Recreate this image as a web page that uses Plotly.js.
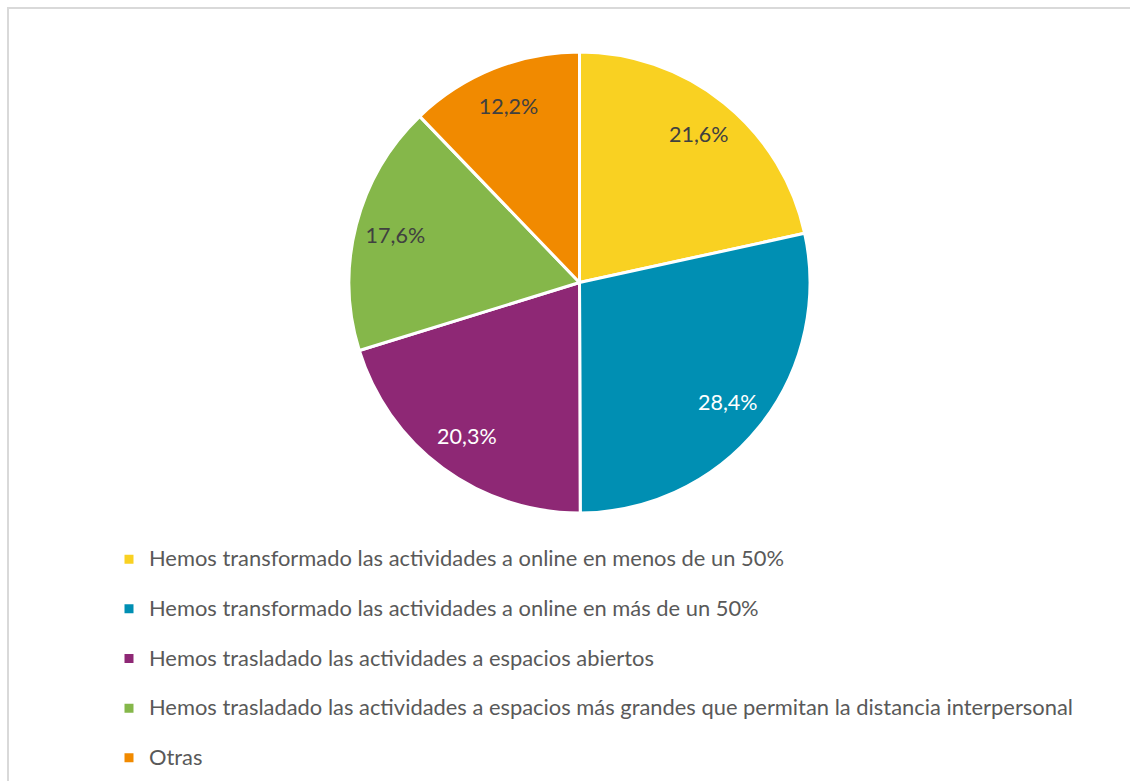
<!DOCTYPE html>
<html>
<head>
<meta charset="utf-8">
<script src="https://cdn.plot.ly/plotly-3.0.1.min.js"></script>
<style>
html,body{margin:0;padding:0;background:#fff;overflow:hidden;}
#chart{width:1130px;height:781px;}
</style>
</head>
<body>
<div id="chart"></div>
<script>
const categories = [
  "Hemos transformado las actividades a online en menos de un 50%",
  "Hemos transformado las actividades a online en más de un 50%",
  "Hemos trasladado las actividades a espacios abiertos",
  "Hemos trasladado las actividades a espacios más grandes que permitan la distancia interpersonal",
  "Otras"
];
const values = [21.6, 28.4, 20.3, 17.6, 12.2];
const colors = ["#F9D122", "#008FB3", "#8E2875", "#85B74A", "#F18A00"];
const labelColors = ["#404040", "#FFFFFF", "#FFFFFF", "#404040", "#404040"];

const W = 1130, H = 781;
const cx = 579.5, cy = 282.5, R = 230.5;
const domain = {x: [(cx - R) / W, (cx + R) / W], y: [1 - (cy + R) / H, 1 - (cy - R) / H]};

const pieTrace = {
  type: "pie",
  labels: categories.map(c => '<span style="font-size:21.9px">' + c + '</span><br>\u00a0'),
  values: values,
  sort: false,
  direction: "clockwise",
  rotation: 0,
  marker: {colors: colors, line: {color: "#FFFFFF", width: 3}},
  textinfo: "none",
  hoverinfo: "label+percent",
  domain: domain
};

const labelTrace = {
  type: "pie",
  labels: categories,
  values: values,
  sort: false,
  direction: "clockwise",
  rotation: 0,
  hole: 0.65,
  showlegend: false,
  marker: {colors: values.map(() => "rgba(0,0,0,0)"), line: {width: 0}},
  texttemplate: "%{value:.1f}%",
  textposition: "inside",
  insidetextorientation: "horizontal",
  insidetextfont: {family: "Lato, sans-serif", size: 21.5, color: labelColors},
  hoverinfo: "skip",
  domain: domain
};

const layout = {
  width: W, height: H,
  margin: {l: 0, r: 0, t: 0, b: 0, autoexpand: false},
  paper_bgcolor: "#FFFFFF",
  separators: ",.",
  showlegend: true,
  legend: {
    x: (149 - 40) / W, xanchor: "left",
    y: 1 - 541 / H, yanchor: "top",
    valign: "top",
    font: {family: "Lato, sans-serif", size: 17.95, color: "#595959"},
    bgcolor: "rgba(0,0,0,0)"
  },
  shapes: [{
    type: "rect", xref: "paper", yref: "paper",
    x0: 8 / W, x1: 1.05, y0: -0.05, y1: 1 - 8 / H,
    line: {color: "#D9D9D9", width: 2}, fillcolor: "rgba(0,0,0,0)"
  }]
};

Plotly.newPlot("chart", [pieTrace, labelTrace], layout, {displayModeBar: false, staticPlot: true});
</script>
</body>
</html>
